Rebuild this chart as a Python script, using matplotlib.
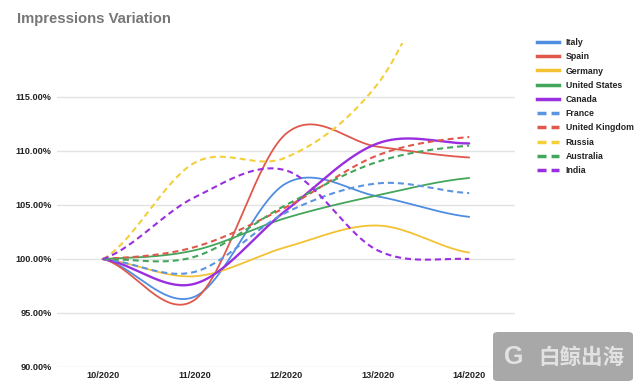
import numpy as np
import matplotlib
matplotlib.use("Agg")
import matplotlib.pyplot as plt
from matplotlib.lines import Line2D
from matplotlib.patches import FancyBboxPatch

# ---------------- data ----------------
months = ["10/2020", "11/2020", "12/2020", "13/2020", "14/2020"]
y_ticks = [90, 95, 100, 105, 110, 115]

italy = [100.0, 96.5, 107.0, 105.8, 103.9]
spain = [100.0, 96.2, 111.6, 110.4, 109.4]
germany = [100.0, 98.4, 101.1, 103.1, 100.6]
united_states = [100.0, 100.8, 103.8, 105.9, 107.5]
canada = [100.0, 97.7, 104.5, 110.7, 110.7]
france = [100.0, 98.8, 104.3, 107.0, 106.1]
united_kingdom = [100.0, 101.1, 104.8, 109.6, 111.3]
russia = [100.0, 108.9, 109.4, 116.2, 131.0]
australia = [100.0, 100.2, 105.0, 109.0, 110.5]
india = [100.0, 105.7, 108.2, 100.8, 100.0]

series_names = ["Italy", "Spain", "Germany", "United States", "Canada",
                "France", "United Kingdom", "Russia", "Australia", "India"]
series_values = [italy, spain, germany, united_states, canada,
                 france, united_kingdom, russia, australia, india]
colors = ["#4f8de0", "#e0584c", "#f3c232", "#43a65a", "#9a2fe0",
          "#5b95e0", "#e0584c", "#f3cf3c", "#43a65a", "#9a2fe0"]
dashed = [False] * 5 + [True] * 5


def smooth(values, n=60):
    """Catmull-Rom (Hermite) smoothing through the points."""
    p = np.asarray(values, dtype=float)
    k = len(p)
    ext = np.concatenate([[p[0]], p, [p[-1]]])
    m = (ext[2:] - ext[:-2]) / 2.0
    xs, ys = [], []
    for i in range(k - 1):
        t = np.linspace(0, 1, n, endpoint=(i == k - 2))
        h00 = 2 * t**3 - 3 * t**2 + 1
        h10 = t**3 - 2 * t**2 + t
        h01 = -2 * t**3 + 3 * t**2
        h11 = t**3 - t**2
        ys.append(h00 * p[i] + h10 * m[i] + h01 * p[i + 1] + h11 * m[i + 1])
        xs.append(i + t)
    return np.concatenate(xs), np.concatenate(ys)


fig = plt.figure(figsize=(6.4, 3.88), dpi=100)
W, H = 640, 388
ax = fig.add_axes([57 / W, 1 - 367 / H, (515 - 57) / W, (367 - 43) / H])

x_idx = np.arange(len(months))
for name, vals, col, dsh in zip(series_names, series_values, colors, dashed):
    xs, ys = smooth(vals)
    if dsh:
        lw, ls = 1.5, (0, (2.9, 1.9))
    else:
        lw, ls = (1.7 if name == "Canada" else 1.3), "-"
    ax.plot(xs, ys, color=col, lw=lw, linestyle=ls, solid_capstyle="round")

ax.set_xlim(-0.5, len(months) - 0.5)
ax.set_ylim(90, 120)
ax.set_yticks(y_ticks)
ax.set_yticklabels([f"{v:.2f}%" for v in y_ticks])
ax.set_xticks(x_idx)
ax.set_xticklabels(months)
ax.grid(axis="y", color="#e3e3e3", lw=1)
ax.set_axisbelow(True)
for s in ax.spines.values():
    s.set_visible(False)
ax.tick_params(length=0, pad=4)
ax.tick_params(axis="x", pad=3)
for lab in ax.get_xticklabels() + ax.get_yticklabels():
    lab.set_fontfamily("Liberation Sans")
    lab.set_fontweight("bold")
    lab.set_fontsize(6.6)
    lab.set_color("#222222")

fig.text(17 / W, 1 - 19 / H, "Impressions Variation", fontsize=10.7,
         fontweight="bold", color="#777777", family="Liberation Sans",
         va="center", ha="left")

handles = []
for name, col, dsh in zip(series_names, colors, dashed):
    if dsh:
        handles.append(Line2D([], [], color=col, lw=2.5, linestyle=(0, (2.6, 1.45))))
    else:
        handles.append(Line2D([], [], color=col, lw=2.5))
leg = fig.legend(handles, series_names, loc="upper left",
                 bbox_to_anchor=(537 / W, 1 - 38 / H), frameon=False,
                 prop={"family": "Liberation Sans", "weight": "bold", "size": 6.3},
                 handlelength=2.55, handletextpad=0.75, labelspacing=0.6,
                 borderpad=0, borderaxespad=0)
for t in leg.get_texts():
    t.set_color("#222222")

# watermark
box = FancyBboxPatch((493 / W, 1 - 381 / H), (633 - 493) / W, (381 - 332) / H,
                     boxstyle="round,pad=0,rounding_size=0.008",
                     transform=fig.transFigure, facecolor="#9f9f9f",
                     edgecolor="none", alpha=0.9, zorder=10)
fig.patches.append(box)
fig.text(514 / W, 1 - 357 / H, "G", fontsize=18, fontweight="bold",
         color="#e2e2e2", family="Liberation Sans", ha="center", va="center",
         zorder=11)
fig.text(581 / W, 1 - 357 / H, "白鲸出海", fontsize=15.5, fontweight="bold",
         color="#e2e2e2", family=["Noto Sans CJK SC", "DejaVu Sans"],
         ha="center", va="center", zorder=11)

fig.savefig("out.png", dpi=100)
